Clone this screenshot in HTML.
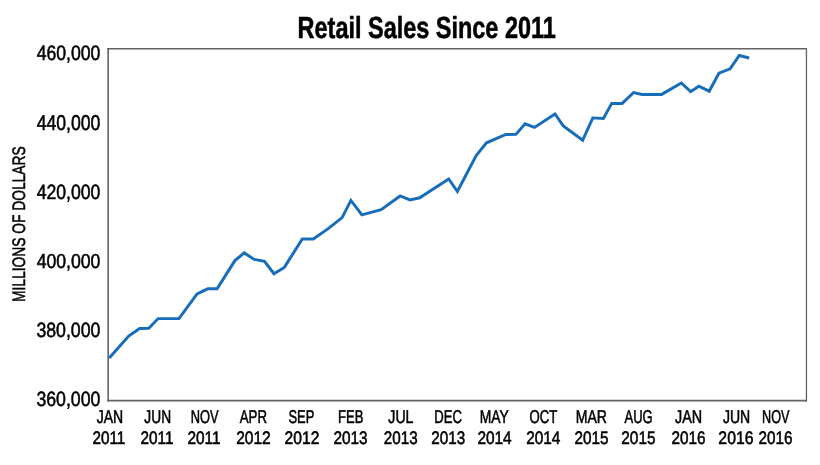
<!DOCTYPE html>
<html><head><meta charset="utf-8"><style>
html,body{margin:0;padding:0;background:#fff;}
body{width:820px;height:465px;overflow:hidden;}
svg{display:block;will-change:transform;}
text{font-family:"Liberation Sans", sans-serif;fill:#000;stroke:#000;stroke-width:0.55px;text-rendering:geometricPrecision;}
</style></head><body>
<svg width="820" height="465" viewBox="0 0 820 465">
<rect width="820" height="465" fill="#fff"/>
<text transform="translate(297.58,37.90) scale(0.7692,1)" font-size="30.50" font-weight="bold">Retail Sales Since 2011</text>
<text transform="translate(36.64,59.69) scale(0.8442,1)" font-size="20.90">460,000</text>
<text transform="translate(36.64,129.69) scale(0.8274,1)" font-size="21.33">440,000</text>
<text transform="translate(36.64,198.69) scale(0.8558,1)" font-size="20.62">420,000</text>
<text transform="translate(36.64,267.70) scale(0.8737,1)" font-size="20.20">400,000</text>
<text transform="translate(36.38,337.39) scale(0.8594,1)" font-size="20.62">380,000</text>
<text transform="translate(36.38,406.29) scale(0.8594,1)" font-size="20.62">360,000</text>
<text transform="translate(96.73,422.90) scale(0.7571,1)" font-size="18.50">JAN</text>
<text transform="translate(92.49,443.52) scale(0.8431,1)" font-size="18.10">2011</text>
<text transform="translate(144.33,422.90) scale(0.7434,1)" font-size="18.50">JUN</text>
<text transform="translate(140.48,443.52) scale(0.8458,1)" font-size="18.10">2011</text>
<text transform="translate(190.80,422.90) scale(0.6939,1)" font-size="18.50">NOV</text>
<text transform="translate(187.38,443.52) scale(0.8512,1)" font-size="18.10">2011</text>
<text transform="translate(239.72,422.90) scale(0.7164,1)" font-size="18.50">APR</text>
<text transform="translate(236.17,443.52) scale(0.8584,1)" font-size="18.10">2012</text>
<text transform="translate(288.46,422.90) scale(0.6991,1)" font-size="18.50">SEP</text>
<text transform="translate(284.57,443.52) scale(0.8636,1)" font-size="18.10">2012</text>
<text transform="translate(337.98,422.90) scale(0.7048,1)" font-size="18.50">FEB</text>
<text transform="translate(333.38,443.52) scale(0.8508,1)" font-size="18.10">2013</text>
<text transform="translate(388.32,422.90) scale(0.7628,1)" font-size="18.50">JUL</text>
<text transform="translate(383.79,443.52) scale(0.8404,1)" font-size="18.10">2013</text>
<text transform="translate(434.28,422.90) scale(0.7086,1)" font-size="18.50">DEC</text>
<text transform="translate(431.29,443.52) scale(0.8430,1)" font-size="18.10">2013</text>
<text transform="translate(479.81,422.90) scale(0.7501,1)" font-size="18.50">MAY</text>
<text transform="translate(477.38,443.52) scale(0.8526,1)" font-size="18.10">2014</text>
<text transform="translate(529.43,422.90) scale(0.7124,1)" font-size="18.50">OCT</text>
<text transform="translate(526.18,443.52) scale(0.8500,1)" font-size="18.10">2014</text>
<text transform="translate(575.80,422.90) scale(0.7593,1)" font-size="18.50">MAR</text>
<text transform="translate(574.39,443.52) scale(0.8448,1)" font-size="18.10">2015</text>
<text transform="translate(624.52,422.90) scale(0.7035,1)" font-size="18.50">AUG</text>
<text transform="translate(621.28,443.52) scale(0.8500,1)" font-size="18.10">2015</text>
<text transform="translate(675.02,422.90) scale(0.7752,1)" font-size="18.50">JAN</text>
<text transform="translate(671.48,443.52) scale(0.8456,1)" font-size="18.10">2016</text>
<text transform="translate(722.92,422.90) scale(0.7609,1)" font-size="18.50">JUN</text>
<text transform="translate(718.36,443.52) scale(0.8715,1)" font-size="18.10">2016</text>
<text transform="translate(762.01,422.90) scale(0.6835,1)" font-size="18.50">NOV</text>
<text transform="translate(758.59,443.52) scale(0.8430,1)" font-size="18.10">2016</text>
<g transform="translate(24.9,300.9) rotate(-90)"><text transform="translate(-1.13,0) scale(0.7654,1)" font-size="18.05">MILLIONS OF DOLLARS</text></g>
<polyline points="109.20,357.90 128.70,336.00 139.60,328.50 148.76,328.30 158.13,318.60 178.97,318.60 197.10,293.90 207.80,288.80 217.10,288.80 234.90,260.60 244.25,252.90 254.20,259.40 264.50,261.30 273.97,273.70 284.30,267.40 302.30,238.90 313.30,238.90 328.20,228.60 342.10,217.60 350.90,200.40 361.90,214.90 381.10,209.60 400.15,196.00 410.00,199.90 419.70,197.80 448.70,178.90 457.40,191.50 476.20,155.50 486.50,142.80 505.80,134.50 515.90,134.40 525.10,123.80 534.50,127.40 555.00,114.00 563.30,125.90 582.65,140.30 592.80,117.90 603.40,118.40 611.70,103.40 622.20,103.40 633.60,92.50 642.10,94.40 661.60,94.40 681.30,83.00 690.70,91.60 698.90,86.20 709.20,91.20 718.90,73.20 730.10,68.90 739.30,55.50 749.20,58.00" fill="none" stroke="#176dba" stroke-width="2.95" stroke-linejoin="miter"/>
<g stroke="#626367" fill="none"><line x1="107.3" y1="48.75" x2="807" y2="48.75" stroke-width="1.7"/><line x1="107.3" y1="400.7" x2="807" y2="400.7" stroke-width="1.7"/><line x1="108.15" y1="47.9" x2="108.15" y2="401.55" stroke-width="1.6"/><line x1="806.45" y1="47.9" x2="806.45" y2="401.55" stroke-width="1.3"/></g>
</svg></body></html>
